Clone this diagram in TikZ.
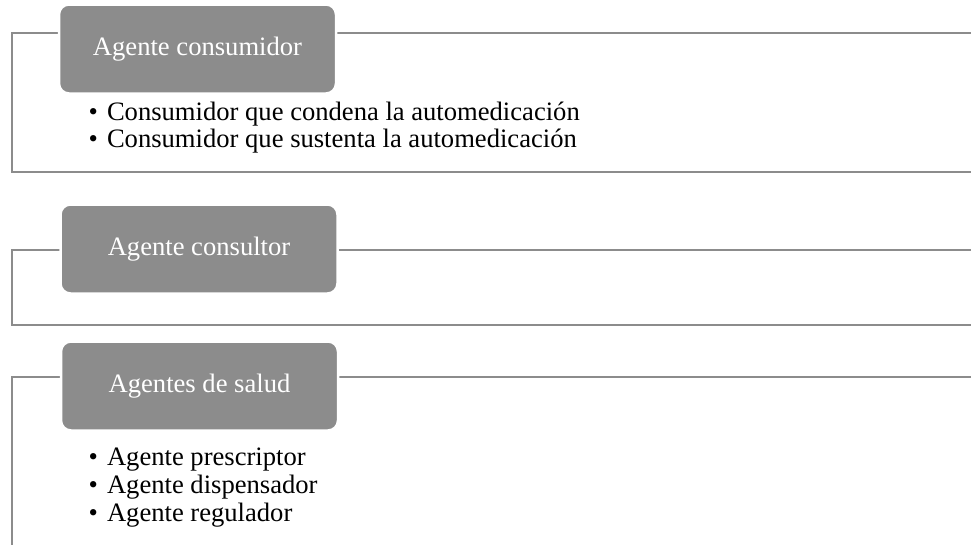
\documentclass[tikz,border=0pt]{standalone}
\usepackage{fontspec}
\setmainfont{Liberation Serif}
\usetikzlibrary{positioning}
\definecolor{gris}{HTML}{8C8C8C}
\tikzset{
    %Define style for the grey header boxes
    cabecera/.style={
           rectangle,
           rounded corners=10pt,
           fill=gris,
           draw=white, line width=2.5pt,
           text=white,
           minimum width=277pt,
           minimum height=89pt,
           font=\fontsize{26.6}{28}\selectfont},
    % Define style for the open frames
    marco/.style={
           draw=gris,
           line width=2pt},
    % Define style for the bullet lines
    punto/.style={
           inner sep=0pt,
           text height=19pt,
           text depth=9pt,
           font=\fontsize{26.6}{28}\selectfont},
    puntocorto/.style={
           punto,
           text depth=8pt}
}
\newcommand{\vineta}{\textbullet\hspace{9pt}}

\begin{document}
\begin{tikzpicture}[x=1pt, y=-1pt]
     \clip (0,0) rectangle (971,544);
     % frames
     \draw[marco] (12,33) rectangle (1000,172);
     \draw[marco] (12,250) rectangle (1000,325);
     \draw[marco] (1000,377) -- (12,377) -- (12,560);
     % headers
     \node[cabecera] (consumidor) at (197.5,49) {Agente consumidor};
     \node[cabecera] (consultor) at (199,249) {Agente consultor};
     \node[cabecera] (salud) at (199.5,386) {Agentes de salud};
     % bullets
     \node[puntocorto, anchor=base west] (condena) at (88.5,120.5) {\vineta Consumidor que condena la automedicación};
     \node[puntocorto, below=0pt of condena.south west, anchor=north west] (sustenta) {\vineta Consumidor que sustenta la automedicación};
     \node[punto, anchor=base west] (prescriptor) at (88.5,465) {\vineta Agente prescriptor};
     \node[punto, below=0pt of prescriptor.south west, anchor=north west] (dispensador) {\vineta Agente dispensador};
     \node[punto, below=0pt of dispensador.south west, anchor=north west] (regulador) {\vineta Agente regulador};
\end{tikzpicture}
\end{document}
